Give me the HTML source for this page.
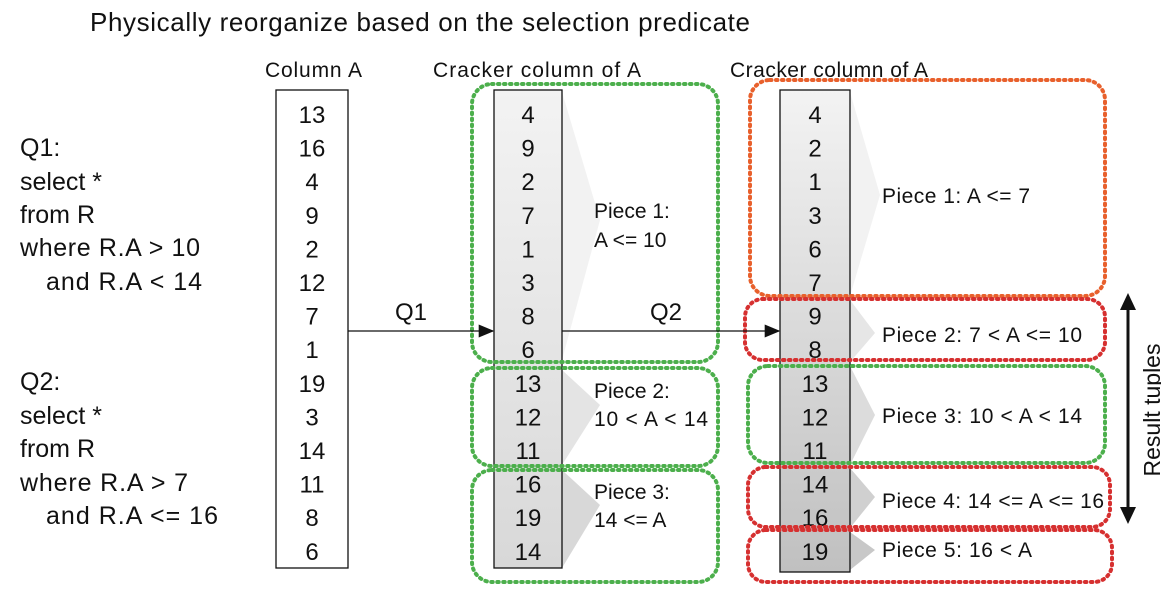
<!DOCTYPE html>
<html><head><meta charset="utf-8"><style>
body{margin:0;background:#fff;}
svg text{font-family:"Liberation Sans",sans-serif;fill:#111;}
</style></head><body>
<svg width="1161" height="595" viewBox="0 0 1161 595">
<defs><marker id="ah" markerWidth="12" markerHeight="10" refX="11" refY="5" orient="auto"><path d="M0,0 L12,5 L0,10 z" fill="#111"/></marker></defs>
<text x="90" y="31" font-size="26" textLength="660">Physically reorganize based on the selection predicate</text>
<text x="265" y="77" font-size="21" textLength="97">Column A</text>
<text x="433" y="77" font-size="21" textLength="208">Cracker column of A</text>
<text x="730" y="77" font-size="21" textLength="198">Cracker column of A</text>
<g font-size="25">
<text x="20" y="156">Q1:</text><text x="20" y="190">select *</text><text x="20" y="223">from R</text>
<text x="20" y="256" textLength="180">where R.A &gt; 10</text><text x="46" y="290" textLength="156">and R.A &lt; 14</text>
<text x="20" y="390">Q2:</text><text x="20" y="424">select *</text><text x="20" y="457">from R</text>
<text x="20" y="491" textLength="168">where R.A &gt; 7</text><text x="46" y="524" textLength="172">and R.A &lt;= 16</text>
</g>
<g>
<polygon points="562,92 600,220 562,360" fill="#f2f2f2"/>
<polygon points="562,370 600,405 562,465" fill="#e4e4e4"/>
<polygon points="562,470 600,505 562,568" fill="#d8d8d8"/>
<polygon points="850,92 880,195 850,296" fill="#f2f2f2"/>
<polygon points="850,300 875,333 850,362" fill="#e6e6e6"/>
<polygon points="850,366 875,415 850,465" fill="#dcdcdc"/>
<polygon points="850,468 875,497 850,528" fill="#d0d0d0"/>
<polygon points="850,532 875,550 850,570" fill="#c8c8c8"/>
</g>
<rect x="276" y="90" width="72" height="478" fill="#fff" stroke="#111" stroke-width="1.3"/>
<defs><linearGradient id="g1" x1="0" y1="0" x2="0" y2="1"><stop offset="0" stop-color="#f3f3f3"/><stop offset="1" stop-color="#d8d8d8"/></linearGradient>
<linearGradient id="g2" x1="0" y1="0" x2="0" y2="1"><stop offset="0" stop-color="#f3f3f3"/><stop offset="1" stop-color="#c0c0c0"/></linearGradient></defs>
<rect x="494" y="90" width="68" height="478" fill="url(#g1)" stroke="#111" stroke-width="1.3"/>
<rect x="780" y="90" width="70" height="482" fill="url(#g2)" stroke="#111" stroke-width="1.3"/>
<g font-size="24" text-anchor="middle" id="vals"></g>
<g fill="none" stroke-width="4" stroke-dasharray="1.5 4.5" stroke-linecap="round">
<rect x="472" y="84" width="246" height="278" rx="20" stroke="#4caf4c"/>
<rect x="472" y="368" width="246" height="98" rx="20" stroke="#4caf4c"/>
<rect x="472" y="470" width="246" height="112" rx="20" stroke="#4caf4c"/>
<rect x="750" y="80" width="355" height="216" rx="20" stroke="#e8602c"/>
<rect x="745" y="299" width="360" height="61" rx="18" stroke="#d63030"/>
<rect x="748" y="366" width="357" height="97" rx="20" stroke="#4caf4c"/>
<rect x="748" y="467" width="362" height="60" rx="18" stroke="#d63030"/>
<rect x="748" y="530" width="364" height="52" rx="18" stroke="#d63030"/>
</g>
<g font-size="21">
<text x="594" y="218">Piece 1:</text><text x="594" y="247">A &lt;= 10</text>
<text x="594" y="398">Piece 2:</text><text x="594" y="426" textLength="114">10 &lt; A &lt; 14</text>
<text x="594" y="499">Piece 3:</text><text x="594" y="527">14 &lt;= A</text>
<text x="882" y="203" textLength="148">Piece 1: A &lt;= 7</text>
<text x="882" y="342" textLength="200">Piece 2: 7 &lt; A &lt;= 10</text>
<text x="882" y="423" textLength="200">Piece 3: 10 &lt; A &lt; 14</text>
<text x="882" y="508" textLength="222">Piece 4: 14 &lt;= A &lt;= 16</text>
<text x="882" y="557" textLength="150">Piece 5: 16 &lt; A</text>
</g>
<line x1="348" y1="331" x2="493" y2="331" stroke="#111" stroke-width="1.3" marker-end="url(#ah)"/>
<text x="395" y="320" font-size="24">Q1</text>
<line x1="562" y1="331" x2="779" y2="331" stroke="#111" stroke-width="1.3" marker-end="url(#ah)"/>
<text x="650" y="320" font-size="24">Q2</text>
<g>
<line x1="1128" y1="304" x2="1128" y2="512" stroke="#111" stroke-width="3"/>
<polygon points="1128,293 1120,310 1136,310" fill="#111"/>
<polygon points="1128,524 1120,507 1136,507" fill="#111"/>
</g>
<text transform="translate(1160,410) rotate(-90)" font-size="23" text-anchor="middle">Result tuples</text>
</svg>
<script>
const colA=[13,16,4,9,2,12,7,1,19,3,14,11,8,6];
const crack1=[4,9,2,7,1,3,8,6,13,12,11,16,19,14];
const crack2=[4,2,1,3,6,7,9,8,13,12,11,14,16,19];
const g=document.getElementById('vals');
const rowY=i=>123+i*33.6;
function col(arr,cx,name){arr.forEach((v,i)=>{const t=document.createElementNS('http://www.w3.org/2000/svg','text');
t.setAttribute('x',cx);t.setAttribute('y',rowY(i));t.textContent=v;


g.appendChild(t);});}
col(colA,312,'column-a');col(crack1,528,'cracker1');col(crack2,815,'cracker2');
</script>
</body></html>
